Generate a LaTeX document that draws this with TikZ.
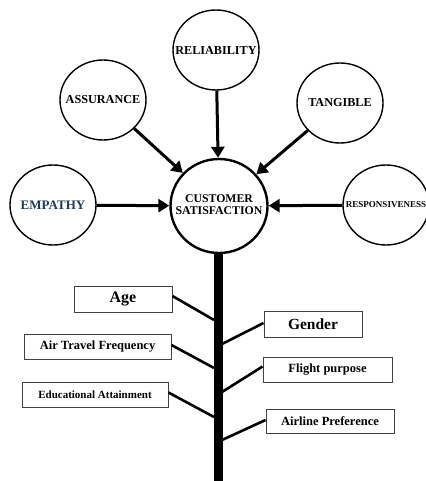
\documentclass[tikz,border=0pt]{standalone}
\usepackage{fontspec}
\setmainfont{Liberation Serif}
\usetikzlibrary{arrows.meta,shapes.geometric}
\definecolor{empblue}{HTML}{1F3B57}
\newcommand{\zw}[1]{\makebox[0pt]{#1}}
\tikzset{
  factor/.style={ellipse, draw=black, line width=1.4pt, minimum width=86pt, minimum height=80pt, inner sep=0pt, font=\bfseries\fontsize{12.2}{13}\selectfont, fill=white},
  center/.style={ellipse, draw=black, line width=2.4pt, minimum width=97pt, minimum height=94pt, inner sep=0pt, font=\bfseries\fontsize{11.8}{13}\selectfont, fill=white},
  infl/.style={-{Triangle[length=11pt,width=13pt]}, line width=3pt},
  demo/.style={draw=black!75, line width=0.9pt, inner sep=0pt, font=\bfseries},
  twig/.style={line width=2.6pt}
}
\begin{document}
\begin{tikzpicture}[x=1pt,y=-1pt]
\useasboundingbox (0,0) rectangle (425,481);
% trunk
\coordinate (tt) at (218,250);
\coordinate (tb) at (218,481);
\draw[line width=9pt] (tt) -- (tb);
% circles
\node[center] (cs) at (219,206) {\zw{\setlength{\tabcolsep}{0pt}\begin{tabular}{c}CUSTOMER\\[-1pt]SATISFACTION\end{tabular}}};
\node[factor] (rel) at (216,50) {\zw{RELIABILITY}};
\node[factor] (ass) at (103,100) {\zw{ASSURANCE}};
\node[factor] (tan) at (340,103) {\zw{TANGIBLE}};
\node[factor, text=empblue, font=\bfseries\fontsize{13}{14}\selectfont] (emp) at (53,205) {\zw{EMPATHY}};
\node[factor, font=\bfseries\fontsize{9}{10}\selectfont] (res) at (386,205) {\zw{RESPONSIVENESS}};
% arrows
\draw[infl] (rel) -- (cs);
\draw[infl] (ass) -- (cs);
\draw[infl] (tan) -- (cs);
\draw[infl] (emp) -- (cs);
\draw[infl] (res) -- (cs);
% demographic boxes
\node[demo, minimum width=98pt, minimum height=26pt, font=\bfseries\fontsize{16}{17}\selectfont] (age) at (123,299) {Age};
\node[demo, minimum width=98pt, minimum height=26pt, font=\bfseries\fontsize{15.5}{17}\selectfont] (gen) at (313,324) {Gender};
\node[demo, minimum width=147pt, minimum height=25pt, font=\bfseries\fontsize{12.5}{14}\selectfont] (atf) at (97.5,347) {Air Travel Frequency};
\node[demo, minimum width=129pt, minimum height=25pt, font=\bfseries\fontsize{12.5}{14}\selectfont] (fp) at (327.5,369.5) {Flight purpose};
\node[demo, minimum width=146pt, minimum height=25pt, font=\bfseries\fontsize{11}{12}\selectfont] (edu) at (95,394.5) {Educational Attainment};
\node[demo, minimum width=128pt, minimum height=24pt, font=\bfseries\fontsize{12.5}{14}\selectfont] (alp) at (330,421) {Airline Preference};
% twigs
\coordinate (j1) at (214,320);
\coordinate (j2) at (222,344);
\coordinate (j3) at (214,368);
\coordinate (j4) at (222,392);
\coordinate (j5) at (214,417);
\coordinate (j6) at (222,440);
\draw[twig] ([yshift=3pt]age.east) -- (j1);
\draw[twig] ([yshift=1pt]gen.west) -- (j2);
\draw[twig] ([yshift=2pt]atf.east) -- (j3);
\draw[twig] ([yshift=3pt]fp.west) -- (j4);
\draw[twig] ([yshift=2pt]edu.east) -- (j5);
\draw[twig] ([yshift=1pt]alp.west) -- (j6);
\end{tikzpicture}
\end{document}
